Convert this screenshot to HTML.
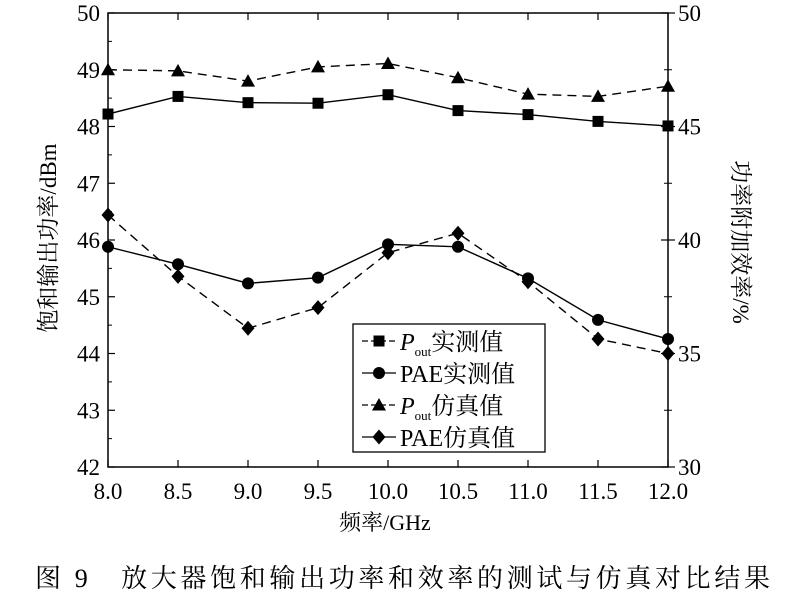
<!DOCTYPE html>
<html><head><meta charset="utf-8"><style>
body{margin:0;background:#fff;}
svg{display:block;font-family:"Liberation Serif","Noto Serif CJK SC",serif;}
</style></head><body>
<svg width="800" height="600" viewBox="0 0 800 600" id="chart"></svg>
<script>
const categories=[8.0,8.5,9.0,9.5,10.0,10.5,11.0,11.5,12.0];
const poutMeasured=[48.22,48.53,48.42,48.41,48.56,48.28,48.21,48.09,48.01];
const poutSimulated=[49.0,48.98,48.80,49.05,49.11,48.86,48.57,48.53,48.71];
const paeMeasured=[39.7,38.93,38.09,38.34,39.81,39.7,38.31,36.48,35.64];
const paeSimulated=[41.1,38.4,36.11,37.02,39.44,40.3,38.16,35.64,35.0];
const xTicks=["8.0","8.5","9.0","9.5","10.0","10.5","11.0","11.5","12.0"];
const leftTicks=[42,43,44,45,46,47,48,49,50];
const rightTicks=[30,35,40,45,50];

const X0=108,X1=668,Y0=467,Y1=13;
const xs=v=>X0+(v-8)/(12-8)*(X1-X0);
const yl=v=>Y0-(v-42)/(50-42)*(Y0-Y1);
const yr=v=>Y0-(v-30)/(50-30)*(Y0-Y1);
const svg=document.getElementById('chart');
const NS='http://www.w3.org/2000/svg';
function mk(tag,attrs,parent){const e=document.createElementNS(NS,tag);for(const k in attrs)e.setAttribute(k,attrs[k]);(parent||svg).appendChild(e);return e;}

const frame=mk('rect',{x:X0,y:Y1,width:X1-X0,height:Y0-Y1,fill:'none',stroke:'#000','stroke-width':1.5});



categories.forEach((c,i)=>{
  const x=xs(c);
  const t=mk('line',{x1:x,x2:x,y1:Y0,y2:Y0-7,stroke:'#000','stroke-width':1.2});
  
  
  const t2=mk('line',{x1:x,x2:x,y1:Y1,y2:Y1+7,stroke:'#000','stroke-width':1.2});
  
  
  const l=mk('text',{x:x,y:Y0+32,'text-anchor':'middle','font-size':23});
  l.textContent=xTicks[i];
  
  
});
leftTicks.forEach(v=>{
  const y=yl(v);
  const t=mk('line',{x1:X0,x2:X0+7,y1:y,y2:y,stroke:'#000','stroke-width':1.2});
  
  
  if(v<50){const m=mk('line',{x1:X0,x2:X0+4,y1:yl(v+0.5),y2:yl(v+0.5),stroke:'#000','stroke-width':1});
  
  }
  const l=mk('text',{x:X0-8,y:y+8,'text-anchor':'end','font-size':23});
  l.textContent=v;
  
  
});
rightTicks.forEach(v=>{
  const y=yr(v);
  const t=mk('line',{x1:X1-7,x2:X1+7,y1:y,y2:y,stroke:'#000','stroke-width':1.2});
  
  
  if(v<50){const m=mk('line',{x1:X1-4,x2:X1+4,y1:yr(v+2.5),y2:yr(v+2.5),stroke:'#000','stroke-width':1});
  
  }
  const l=mk('text',{x:X1+10,y:y+8,'text-anchor':'start','font-size':23});
  l.textContent=v;
  
  
});

function marker(type,x,y,g){
  if(type==='square')return mk('rect',{x:x-5.5,y:y-5.5,width:11,height:11,fill:'#000'},g);
  if(type==='circle')return mk('circle',{cx:x,cy:y,r:6,fill:'#000'},g);
  if(type==='triangle')return mk('polygon',{points:`${x},${y-7} ${x-7},${y+5.5} ${x+7},${y+5.5}`,fill:'#000'},g);
  return mk('polygon',{points:`${x},${y-7.5} ${x+6.5},${y} ${x},${y+7.5} ${x-6.5},${y}`,fill:'#000'},g);
}
function series(name,vals,ysc,type,dash){
  const g=mk('g',{});
  
  
  const pts=vals.map((v,i)=>xs(categories[i])+','+ysc(v)).join(' ');
  mk('polyline',{points:pts,fill:'none',stroke:'#000','stroke-width':1.4,'stroke-dasharray':dash?'9,6':'none'},g);
  vals.forEach((v,i)=>{const m=marker(type,xs(categories[i]),ysc(v),g);
    
    });
}
series('pout-measured-series',poutMeasured,yl,'square',false);
series('pout-simulated-series',poutSimulated,yl,'triangle',true);
series('pae-measured-series',paeMeasured,yr,'circle',false);
series('pae-simulated-series',paeSimulated,yr,'diamond',true);

const lg=mk('g',{});


mk('rect',{x:353,y:324,width:192,height:128,fill:'#fff',stroke:'#000','stroke-width':1.3},lg);
const entries=[['square',true,'P','实测值'],['circle',false,'PAE','实测值'],['triangle',true,'P','仿真值'],['diamond',false,'PAE','仿真值']];
entries.forEach((e,i)=>{
  const y=341+i*32;
  const eg=mk('g',{},lg);
  
  
  mk('line',{x1:362,x2:396,y1:y,y2:y,stroke:'#000','stroke-width':1.3,'stroke-dasharray':e[1]?'6,3':'none'},eg);
  marker(e[0],379,y,eg);
  const t=mk('text',{x:400,y:y+9,'font-size':24},eg);
  if(e[2]==='P'){t.innerHTML='<tspan font-style="italic">P</tspan><tspan font-size="13" dy="6">out</tspan><tspan dy="-6">'+e[3]+'</tspan>';}
  else t.textContent=e[2]+e[3];
});

const xt=mk('text',{x:385,y:530,'text-anchor':'middle','font-size':22});
xt.textContent='频率/GHz';


const ylt=mk('text',{x:0,y:0,'text-anchor':'middle','font-size':23,transform:'translate(56,238) rotate(-90)'});
ylt.textContent='饱和输出功率/dBm';


const yrt=mk('text',{x:0,y:0,'text-anchor':'middle','font-size':23,transform:'translate(733,242) rotate(90)'});
yrt.textContent='功率附加效率/%';


const cap=mk('text',{x:35,y:587,'text-anchor':'start','font-size':26,textLength:735,lengthAdjust:'spacing'});
cap.textContent='图 9　放大器饱和输出功率和效率的测试与仿真对比结果';


</script>
</body></html>
